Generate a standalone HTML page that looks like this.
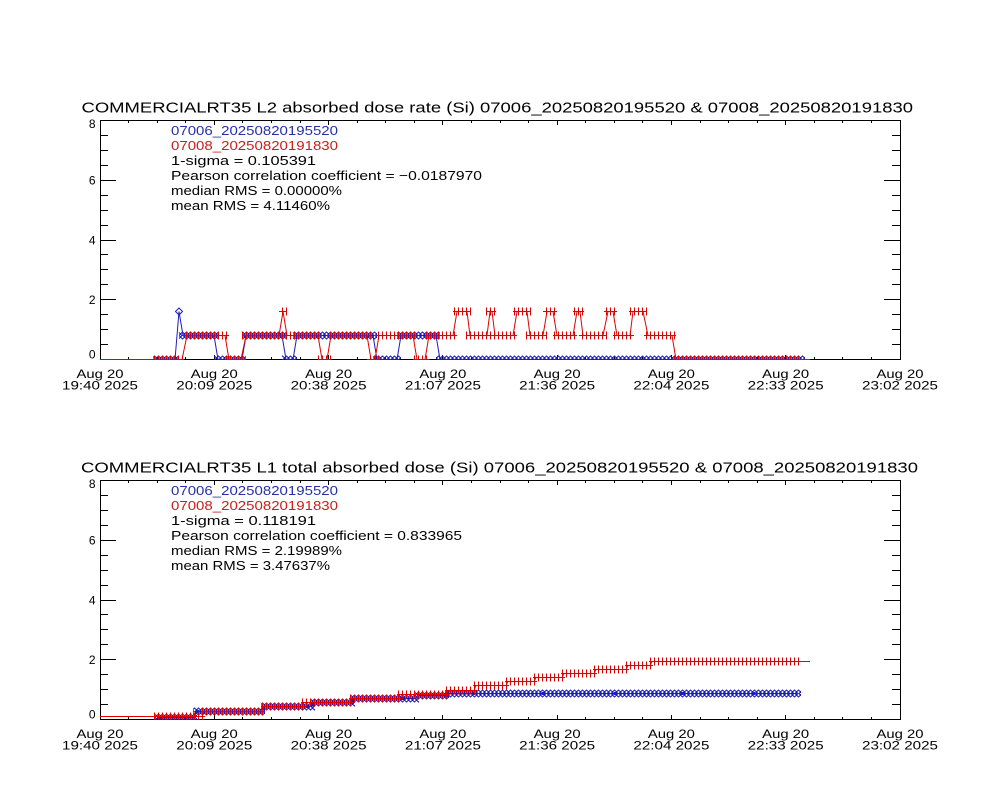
<!DOCTYPE html>
<html>
<head>
<meta charset="utf-8">
<style>
  html, body { margin: 0; padding: 0; background: #ffffff; }
  svg { display: block; }
  text { font-family: "Liberation Sans", sans-serif; }
</style>
</head>
<body>
<svg width="1000" height="800" viewBox="0 0 1000 800" xmlns="http://www.w3.org/2000/svg">
  <defs>
    <pattern id="pR" patternUnits="userSpaceOnUse" x="0" y="-5" width="4" height="10">
      <path d="M2.5 1V9M0 5H4" stroke="#e00000" stroke-width="1" fill="none"/>
    </pattern>
    <pattern id="pB" patternUnits="userSpaceOnUse" x="0" y="-5" width="4" height="10">
      <path d="M-1.5 1.5L2 5L-1.5 8.5L-5 5Z M2.5 1.5L6 5L2.5 8.5L-1 5Z M6.5 1.5L10 5L6.5 8.5L3 5Z" stroke="#1c1cc0" stroke-width="1" fill="none"/>
    </pattern>
    <clipPath id="c1"><rect x="100" y="120" width="801" height="240"/></clipPath>
    <clipPath id="c2"><rect x="100" y="480" width="801" height="240"/></clipPath>
    <g id="axes">
      <rect x="100.5" y="120.5" width="800" height="239" fill="none" stroke="#000" stroke-width="1"/>
      <path fill="none" stroke="#000" stroke-width="1" d="
        M100 359.5H116M100 299.5H116M100 240.5H116M100 180.5H116M100 120.5H116
        M100 344.5H108M100 329.5H108M100 314.5H108M100 284.5H108M100 269.5H108M100 254.5H108
        M100 225.5H108M100 210.5H108M100 195.5H108M100 165.5H108M100 150.5H108M100 135.5H108
        M884 359.5H901M884 299.5H901M884 240.5H901M884 180.5H901M884 120.5H901
        M892 344.5H901M892 329.5H901M892 314.5H901M892 284.5H901M892 269.5H901M892 254.5H901
        M892 225.5H901M892 210.5H901M892 195.5H901M892 165.5H901M892 150.5H901M892 135.5H901
        M214.5 120v5M328.5 120v5M442.5 120v5M557.5 120v5M671.5 120v5M785.5 120v5
        M128.5 120v3M157.5 120v3M185.5 120v3M242.5 120v3M271.5 120v3M300.5 120v3M357.5 120v3
        M385.5 120v3M414.5 120v3M471.5 120v3M500.5 120v3M528.5 120v3M585.5 120v3M614.5 120v3
        M642.5 120v3M700.5 120v3M728.5 120v3M757.5 120v3M814.5 120v3M842.5 120v3M871.5 120v3
        M214.5 360v-5M328.5 360v-5M442.5 360v-5M557.5 360v-5M671.5 360v-5M785.5 360v-5
        M128.5 360v-3M157.5 360v-3M185.5 360v-3M242.5 360v-3M271.5 360v-3M300.5 360v-3M357.5 360v-3
        M385.5 360v-3M414.5 360v-3M471.5 360v-3M500.5 360v-3M528.5 360v-3M585.5 360v-3M614.5 360v-3
        M642.5 360v-3M700.5 360v-3M728.5 360v-3M757.5 360v-3M814.5 360v-3M842.5 360v-3M871.5 360v-3"/>
    </g>
  </defs>

  <!-- ================= TOP PLOT ================= -->
  <use href="#axes"/>
  <text x="81.5" y="112.5" font-size="15" textLength="831.5" lengthAdjust="spacingAndGlyphs">COMMERCIALRT35 L2 absorbed dose rate (Si) 07006_20250820195520 &amp; 07008_20250820191830</text>

  <g font-size="12" text-anchor="end">
    <text x="95.5" y="128">8</text>
    <text x="95.5" y="184.5">6</text>
    <text x="95.5" y="244.5">4</text>
    <text x="95.5" y="304">2</text>
    <text x="95.5" y="358.5">0</text>
  </g>
  <g font-size="12" lengthAdjust="spacingAndGlyphs">
    <text x="76.5" y="378" textLength="47" lengthAdjust="spacingAndGlyphs">Aug 20</text>
    <text x="62" y="389.5" textLength="76" lengthAdjust="spacingAndGlyphs">19:40 2025</text>
    <text x="190.8" y="378" textLength="47" lengthAdjust="spacingAndGlyphs">Aug 20</text>
    <text x="176.3" y="389.5" textLength="76" lengthAdjust="spacingAndGlyphs">20:09 2025</text>
    <text x="305.1" y="378" textLength="47" lengthAdjust="spacingAndGlyphs">Aug 20</text>
    <text x="290.6" y="389.5" textLength="76" lengthAdjust="spacingAndGlyphs">20:38 2025</text>
    <text x="419.4" y="378" textLength="47" lengthAdjust="spacingAndGlyphs">Aug 20</text>
    <text x="404.9" y="389.5" textLength="76" lengthAdjust="spacingAndGlyphs">21:07 2025</text>
    <text x="533.6" y="378" textLength="47" lengthAdjust="spacingAndGlyphs">Aug 20</text>
    <text x="519.1" y="389.5" textLength="76" lengthAdjust="spacingAndGlyphs">21:36 2025</text>
    <text x="647.9" y="378" textLength="47" lengthAdjust="spacingAndGlyphs">Aug 20</text>
    <text x="633.4" y="389.5" textLength="76" lengthAdjust="spacingAndGlyphs">22:04 2025</text>
    <text x="762.2" y="378" textLength="47" lengthAdjust="spacingAndGlyphs">Aug 20</text>
    <text x="747.7" y="389.5" textLength="76" lengthAdjust="spacingAndGlyphs">22:33 2025</text>
    <text x="876.5" y="378" textLength="47" lengthAdjust="spacingAndGlyphs">Aug 20</text>
    <text x="862" y="389.5" textLength="76" lengthAdjust="spacingAndGlyphs">23:02 2025</text>
  </g>

  <g font-size="13">
    <text x="171" y="135" fill="#2430a8" textLength="167" lengthAdjust="spacingAndGlyphs">07006_20250820195520</text>
    <text x="171" y="150" fill="#cc1c1c" textLength="167" lengthAdjust="spacingAndGlyphs">07008_20250820191830</text>
    <text x="171" y="165" textLength="145" lengthAdjust="spacingAndGlyphs">1-sigma = 0.105391</text>
    <text x="171" y="180" textLength="311" lengthAdjust="spacingAndGlyphs">Pearson correlation coefficient = −0.0187970</text>
    <text x="171" y="195" textLength="171" lengthAdjust="spacingAndGlyphs">median RMS = 0.00000%</text>
    <text x="171" y="210" textLength="159" lengthAdjust="spacingAndGlyphs">mean RMS = 4.11460%</text>
  </g>

  <g clip-path="url(#c1)">
    <!-- blue series -->
    <polyline fill="none" stroke="#1c1cc0" stroke-width="1" points="157,359.5 175,359.5 179,311.5 183,335.5 214,335.5 218,359.5 242,359.5 246,335.5 282,335.5 286,359.5 293,359.5 297,335.5 373,335.5 377,359.5 397,359.5 401,335.5 436,335.5 440,359.5 797,359.5"/>
    <g fill="url(#pB)">
      <rect transform="translate(0,359.5)" x="153" y="-5" width="26" height="10"/>
      <rect transform="translate(0,359.5)" x="214" y="-5" width="32" height="10"/>
      <rect transform="translate(0,359.5)" x="282" y="-5" width="15" height="10"/>
      <rect transform="translate(0,359.5)" x="373" y="-5" width="28" height="10"/>
      <rect transform="translate(0,359.5)" x="436" y="-5" width="369" height="10"/>
      <rect transform="translate(0,335.5)" x="179" y="-5" width="39" height="10"/>
      <rect transform="translate(0,335.5)" x="242" y="-5" width="44" height="10"/>
      <rect transform="translate(0,335.5)" x="293" y="-5" width="84" height="10"/>
      <rect transform="translate(0,335.5)" x="397" y="-5" width="43" height="10"/>
    </g>
    <polygon points="179,308 182.5,311.5 179,315 175.5,311.5" fill="none" stroke="#1c1cc0"/>

    <!-- red series -->
    <polyline fill="none" stroke="#e00000" stroke-width="1" points="100,359.5 182,359.5 187,335.5 225,335.5 229,359.5 241,359.5 246,335.5 279,335.5 283,311.5 287,335.5 318,335.5 322,359.5 327,359.5 331,335.5 367,335.5 371,359.5 375,359.5 379,335.5 413,335.5 417,359.5 425,359.5 429,335.5 453,335.5 457,311.5 467,311.5 470,335.5 487,335.5 490,311.5 492,311.5 495,335.5 513,335.5 517,311.5 527,311.5 530,335.5 543,335.5 547,311.5 553,311.5 557,335.5 573,335.5 577,311.5 580,311.5 583,335.5 603,335.5 608,311.5 613,311.5 617,335.5 630,335.5 633,311.5 643,311.5 648,335.5 672,335.5 676,359.5 810,359.5"/>
    <g fill="url(#pR)">
      <rect transform="translate(0,359.5)" x="151" y="-5" width="33" height="10"/>
      <rect transform="translate(0,359.5)" x="225" y="-5" width="20" height="10"/>
      <rect transform="translate(0,359.5)" x="318" y="-5" width="13" height="10"/>
      <rect transform="translate(0,359.5)" x="367" y="-5" width="12" height="10"/>
      <rect transform="translate(0,359.5)" x="413" y="-5" width="16" height="10"/>
      <rect transform="translate(0,359.5)" x="672" y="-5" width="129" height="10"/>
      <rect transform="translate(0,335.5)" x="183" y="-5" width="46" height="10"/>
      <rect transform="translate(0,335.5)" x="242" y="-5" width="41" height="10"/>
      <rect transform="translate(0,335.5)" x="283" y="-5" width="39" height="10"/>
      <rect transform="translate(0,335.5)" x="327" y="-5" width="44" height="10"/>
      <rect transform="translate(0,335.5)" x="375" y="-5" width="42" height="10"/>
      <rect transform="translate(0,335.5)" x="425" y="-5" width="32" height="10"/>
      <rect transform="translate(0,335.5)" x="466" y="-5" width="25" height="10"/>
      <rect transform="translate(0,335.5)" x="491" y="-5" width="26" height="10"/>
      <rect transform="translate(0,335.5)" x="526" y="-5" width="21" height="10"/>
      <rect transform="translate(0,335.5)" x="553" y="-5" width="24" height="10"/>
      <rect transform="translate(0,335.5)" x="579" y="-5" width="28" height="10"/>
      <rect transform="translate(0,335.5)" x="613" y="-5" width="21" height="10"/>
      <rect transform="translate(0,335.5)" x="644" y="-5" width="32" height="10"/>
      <rect transform="translate(0,311.5)" x="453" y="-5" width="18" height="10"/>
      <rect transform="translate(0,311.5)" x="486" y="-5" width="10" height="10"/>
      <rect transform="translate(0,311.5)" x="513" y="-5" width="18" height="10"/>
      <rect transform="translate(0,311.5)" x="543" y="-5" width="14" height="10"/>
      <rect transform="translate(0,311.5)" x="573" y="-5" width="11" height="10"/>
      <rect transform="translate(0,311.5)" x="604" y="-5" width="13" height="10"/>
      <rect transform="translate(0,311.5)" x="629" y="-5" width="18" height="10"/>
      <rect transform="translate(0,311.5)" x="279" y="-5" width="8" height="10"/>
    </g>
  </g>

  <!-- ================= BOTTOM PLOT ================= -->
  <use href="#axes" transform="translate(0,360)"/>
  <text x="81" y="472.5" font-size="15" textLength="837" lengthAdjust="spacingAndGlyphs">COMMERCIALRT35 L1 total absorbed dose (Si) 07006_20250820195520 &amp; 07008_20250820191830</text>

  <g font-size="12" text-anchor="end">
    <text x="95.5" y="488">8</text>
    <text x="95.5" y="544.5">6</text>
    <text x="95.5" y="604.5">4</text>
    <text x="95.5" y="664">2</text>
    <text x="95.5" y="718.5">0</text>
  </g>
  <g font-size="12">
    <text x="76.5" y="738" textLength="47" lengthAdjust="spacingAndGlyphs">Aug 20</text>
    <text x="62" y="749.5" textLength="76" lengthAdjust="spacingAndGlyphs">19:40 2025</text>
    <text x="190.8" y="738" textLength="47" lengthAdjust="spacingAndGlyphs">Aug 20</text>
    <text x="176.3" y="749.5" textLength="76" lengthAdjust="spacingAndGlyphs">20:09 2025</text>
    <text x="305.1" y="738" textLength="47" lengthAdjust="spacingAndGlyphs">Aug 20</text>
    <text x="290.6" y="749.5" textLength="76" lengthAdjust="spacingAndGlyphs">20:38 2025</text>
    <text x="419.4" y="738" textLength="47" lengthAdjust="spacingAndGlyphs">Aug 20</text>
    <text x="404.9" y="749.5" textLength="76" lengthAdjust="spacingAndGlyphs">21:07 2025</text>
    <text x="533.6" y="738" textLength="47" lengthAdjust="spacingAndGlyphs">Aug 20</text>
    <text x="519.1" y="749.5" textLength="76" lengthAdjust="spacingAndGlyphs">21:36 2025</text>
    <text x="647.9" y="738" textLength="47" lengthAdjust="spacingAndGlyphs">Aug 20</text>
    <text x="633.4" y="749.5" textLength="76" lengthAdjust="spacingAndGlyphs">22:04 2025</text>
    <text x="762.2" y="738" textLength="47" lengthAdjust="spacingAndGlyphs">Aug 20</text>
    <text x="747.7" y="749.5" textLength="76" lengthAdjust="spacingAndGlyphs">22:33 2025</text>
    <text x="876.5" y="738" textLength="47" lengthAdjust="spacingAndGlyphs">Aug 20</text>
    <text x="862" y="749.5" textLength="76" lengthAdjust="spacingAndGlyphs">23:02 2025</text>
  </g>

  <g font-size="13">
    <text x="171" y="495" fill="#2430a8" textLength="167" lengthAdjust="spacingAndGlyphs">07006_20250820195520</text>
    <text x="171" y="510" fill="#cc1c1c" textLength="167" lengthAdjust="spacingAndGlyphs">07008_20250820191830</text>
    <text x="171" y="525" textLength="145" lengthAdjust="spacingAndGlyphs">1-sigma = 0.118191</text>
    <text x="171" y="540" textLength="291" lengthAdjust="spacingAndGlyphs">Pearson correlation coefficient = 0.833965</text>
    <text x="171" y="555" textLength="171" lengthAdjust="spacingAndGlyphs">median RMS = 2.19989%</text>
    <text x="171" y="570" textLength="159" lengthAdjust="spacingAndGlyphs">mean RMS = 3.47637%</text>
  </g>

  <g clip-path="url(#c2)">
    <!-- blue series -->
    <polyline fill="none" stroke="#1c1cc0" stroke-width="1" points="158,717.5 194,717.5 196,711.5 262,711.5 264,706.5 312,706.5 314,702.5 352,702.5 354,698.5 416,698.5 418,695.5 446,695.5 448,693.5 797,693.5"/>
    <g fill="url(#pB)">
      <rect transform="translate(0,717.5)" x="154" y="-5" width="43" height="10"/>
      <rect transform="translate(0,711.5)" x="193" y="-5" width="72" height="10"/>
      <rect transform="translate(0,706.5)" x="261" y="-5" width="54" height="10"/>
      <rect transform="translate(0,702.5)" x="311" y="-5" width="44" height="10"/>
      <rect transform="translate(0,698.5)" x="351" y="-5" width="68" height="10"/>
      <rect transform="translate(0,695.5)" x="415" y="-5" width="34" height="10"/>
      <rect transform="translate(0,693.5)" x="445" y="-5" width="356" height="10"/>
    </g>
    <g fill="#1c1cc0">
      <rect x="159" y="716" width="3" height="3"/>
      <rect x="196" y="710" width="3" height="3"/>
      <rect x="306" y="705" width="3" height="3"/>
      <rect x="351" y="701" width="3" height="3"/>
      <rect x="401" y="697" width="3" height="3"/>
      <rect x="472" y="692" width="3" height="3"/>
      <rect x="542" y="692" width="3" height="3"/>
      <rect x="614" y="692" width="3" height="3"/>
      <rect x="681" y="692" width="3" height="3"/>
      <rect x="752" y="692" width="3" height="3"/>
    </g>

    <!-- red series -->
    <polyline fill="none" stroke="#e00000" stroke-width="1" points="100,716.5 202,716.5 204,711.5 262,711.5 264,706.5 302,706.5 304,702.5 350,702.5 352,698.5 398,698.5 400,694.5 446,694.5 448,690.5 474,690.5 476,685.5 506,685.5 508,681.5 534,681.5 536,677.5 562,677.5 564,673.5 594,673.5 596,669.5 626,669.5 628,665.5 650,665.5 652,661.5 810,661.5"/>
    <g fill="url(#pR)">
      <rect transform="translate(0,716.5)" x="153" y="-5" width="52" height="10"/>
      <rect transform="translate(0,711.5)" x="201" y="-5" width="64" height="10"/>
      <rect transform="translate(0,706.5)" x="261" y="-5" width="44" height="10"/>
      <rect transform="translate(0,702.5)" x="301" y="-5" width="52" height="10"/>
      <rect transform="translate(0,698.5)" x="349" y="-5" width="52" height="10"/>
      <rect transform="translate(0,694.5)" x="397" y="-5" width="52" height="10"/>
      <rect transform="translate(0,690.5)" x="445" y="-5" width="32" height="10"/>
      <rect transform="translate(0,685.5)" x="473" y="-5" width="36" height="10"/>
      <rect transform="translate(0,681.5)" x="505" y="-5" width="32" height="10"/>
      <rect transform="translate(0,677.5)" x="533" y="-5" width="32" height="10"/>
      <rect transform="translate(0,673.5)" x="561" y="-5" width="36" height="10"/>
      <rect transform="translate(0,669.5)" x="593" y="-5" width="36" height="10"/>
      <rect transform="translate(0,665.5)" x="625" y="-5" width="28" height="10"/>
      <rect transform="translate(0,661.5)" x="649" y="-5" width="152" height="10"/>
    </g>
  </g>
</svg>
</body>
</html>
